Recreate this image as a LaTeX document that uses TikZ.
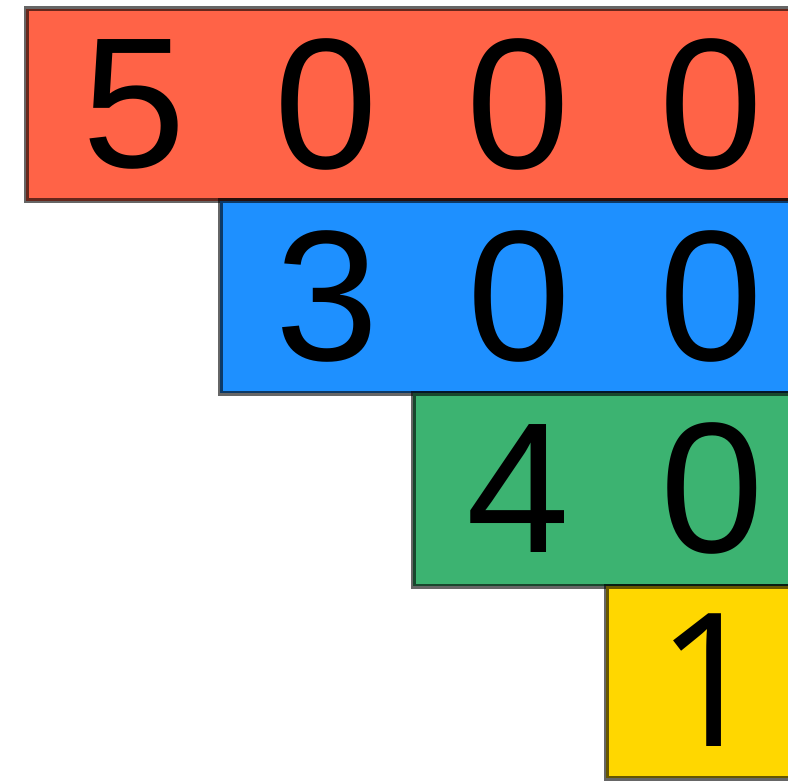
\documentclass[tikz,border=0pt]{standalone}
\usepackage{fontspec}
\setmainfont{Liberation Sans}
\newfontfamily\onefont{Open Sans}
\definecolor{cred}{HTML}{FF6347}
\definecolor{cblue}{HTML}{1E90FF}
\definecolor{cgreen}{HTML}{3CB371}
\definecolor{cyellow}{HTML}{FFD700}
\tikzset{
  bar/.style={draw=black, draw opacity=0.6, line width=5pt},
  digit/.style={inner sep=0pt, outer sep=0pt, anchor=center, font=\fontsize{186}{190}\selectfont}
}
\begin{document}
\begin{tikzpicture}[x=1pt,y=-1pt]
\useasboundingbox (0,0) rectangle (788,781);
\clip (0,0) rectangle (788,781);
\fill[white] (0,0) rectangle (788,781);
\path[bar, fill=cred]    (26,9)    rectangle (820,201);
\path[bar, fill=cblue]   (220,201) rectangle (820,393);
\path[bar, fill=cgreen]  (413,393) rectangle (820,586);
\path[bar, fill=cyellow] (606,586) rectangle (820,778);
\node[digit] (a1) at (134,104.5) {5};
\node[digit] (a2) at (326,104.5) {0};
\node[digit] (a3) at (518,104.5) {0};
\node[digit] (a4) at (711,104.5) {0};
\node[digit] (b2) at (327,296.5) {3};
\node[digit] (b3) at (519,296.5) {0};
\node[digit] (b4) at (711,296.5) {0};
\node[digit] (c3) at (518,488.5) {4};
\node[digit] (c4) at (712,488.5) {0};
\node[digit, font=\onefont\fontsize{186}{190}\selectfont] (d4) at (710,680) {1};
\end{tikzpicture}
\end{document}
